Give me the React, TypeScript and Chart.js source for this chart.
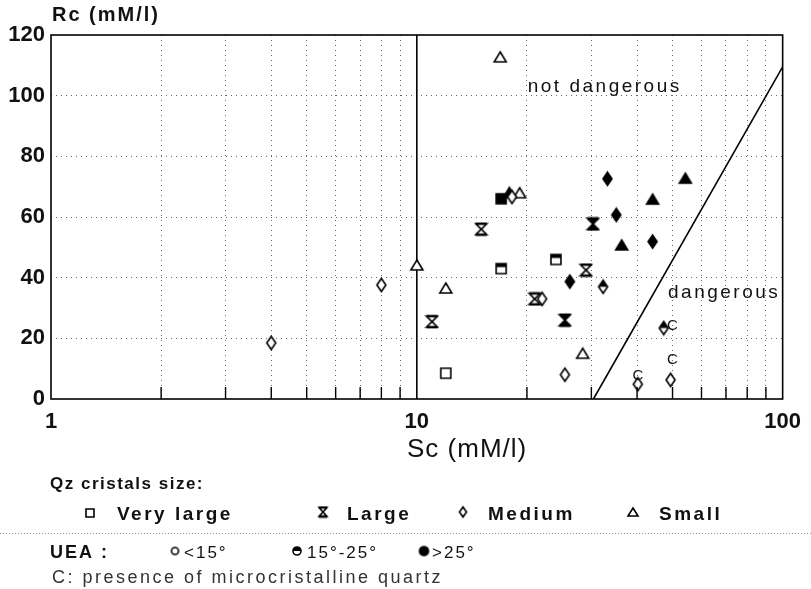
import React, { useEffect, useRef } from "react";
import { Chart, registerables } from "chart.js";
Chart.register(...registerables);

// ---------- data ----------
const xMin = 1;
const xMax = 100;
const yMin = 0;
const yMax = 120;
const yStep = 20;
const xLabelValues = [1, 10, 100];
const xTickValues = [1, 2, 3, 4, 5, 6, 7, 8, 9, 10, 20, 30, 40, 50, 60, 70, 80, 90, 100];

// Very large (square)
const veryLargeOpenX = [12];
const veryLargeOpenY = [8.5];
const veryLargeHalfX = [17, 24];
const veryLargeHalfY = [43, 46];
const veryLargeFullX = [17];
const veryLargeFullY = [66];
// Large (hourglass)
const largeOpenX = [11, 15, 21, 29];
const largeOpenY = [25.5, 56, 33, 42.5];
const largeFullX = [25.4, 30.3];
const largeFullY = [26, 57.7];
// Medium (diamond)
const mediumOpenX = [4, 8, 18.2, 22, 25.4, 40.2, 49.4];
const mediumOpenY = [18.5, 37.6, 66.6, 33, 8, 4.9, 6.3];
const mediumHalfX = [32.3, 47.3];
const mediumHalfY = [37, 23.4];
const mediumFullX = [26.2, 33.2, 35.1, 44.1];
const mediumFullY = [38.7, 72.6, 60.7, 51.9];
// Small (triangle)
const smallOpenX = [10, 12, 16.9, 19.1, 28.4];
const smallOpenY = [44.2, 36.6, 112.8, 68, 15.1];
const smallFullX = [17.9, 36.3, 44.1, 54.2];
const smallFullY = [68.1, 50.8, 65.9, 72.8];
// C: presence of microcristalline quartz
const microX = [40.2, 50, 50];
const microY = [7.6, 12.9, 24];
// boundary lines
const boundaryX = [10, 10];
const boundaryY = [0, 120];
const dangerX = [30.4, 100];
const dangerY = [0, 109.5];

const FONT = "'Liberation Sans', Arial, Helvetica, sans-serif";

type Shape = "square" | "hourglass" | "diamond" | "triangle" | "circle";
type Fill = "open" | "half" | "full";

function makeMarker(shape: Shape, fill: Fill, w: number, h: number) {
  const pad = 2;
  const c = document.createElement("canvas");
  c.width = Math.ceil(w + pad * 2);
  c.height = Math.ceil(h + pad * 2);
  const ctx = c.getContext("2d")!;
  ctx.translate(c.width / 2, c.height / 2);
  const hw = w / 2;
  const hh = h / 2;
  const p = new Path2D();
  if (shape === "square") {
    p.rect(-hw, -hh, w, h);
  } else if (shape === "diamond") {
    p.moveTo(0, -hh);
    p.lineTo(hw, 0);
    p.lineTo(0, hh);
    p.lineTo(-hw, 0);
    p.closePath();
  } else if (shape === "triangle") {
    p.moveTo(0, -hh);
    p.lineTo(hw, hh);
    p.lineTo(-hw, hh);
    p.closePath();
  } else if (shape === "hourglass") {
    p.moveTo(-hw, -hh);
    p.lineTo(hw, -hh);
    p.lineTo(0, 0);
    p.closePath();
    p.moveTo(-hw, hh);
    p.lineTo(hw, hh);
    p.lineTo(0, 0);
    p.closePath();
  } else {
    p.arc(0, 0, hw, 0, Math.PI * 2);
  }
  ctx.strokeStyle = "#000";
  ctx.fillStyle = "#fff";
  ctx.fill(p);
  ctx.fillStyle = "#000";
  if (fill === "full") ctx.fill(p);
  if (fill === "half") {
    ctx.save();
    ctx.beginPath();
    ctx.rect(-hw - pad, -hh - pad, w + pad * 2, hh + pad - (shape === "square" ? 1.5 : 0));
    ctx.clip();
    ctx.fill(p);
    ctx.restore();
  }
  ctx.lineWidth = 1.6;
  ctx.lineJoin = "miter";
  ctx.stroke(p);
  if (shape === "hourglass") {
    ctx.lineWidth = 2.4;
    ctx.beginPath();
    ctx.moveTo(-hw, -hh);
    ctx.lineTo(hw, -hh);
    ctx.moveTo(-hw, hh);
    ctx.lineTo(hw, hh);
    ctx.stroke();
  }
  return c;
}

function pts(xs: number[], ys: number[]) {
  return xs.map((x, i) => ({ x, y: ys[i] }));
}

function drawText(
  ctx: CanvasRenderingContext2D,
  s: string,
  x: number,
  y: number,
  font: string,
  align: CanvasTextAlign = "left",
  spacing = "0px",
  color = "#111"
) {
  ctx.save();
  ctx.font = font;
  (ctx as any).letterSpacing = spacing;
  ctx.fillStyle = color;
  ctx.textAlign = align;
  ctx.textBaseline = "middle";
  ctx.fillText(s, x, y);
  ctx.restore();
}

export default function App() {
  const ref = useRef<HTMLCanvasElement>(null);
  useEffect(() => {
    if (!ref.current) return;
    const m = {
      sqO: makeMarker("square", "open", 10, 10),
      sqH: makeMarker("square", "half", 10, 10),
      sqF: makeMarker("square", "full", 10, 10),
      hgO: makeMarker("hourglass", "open", 11, 11),
      hgF: makeMarker("hourglass", "full", 11, 11),
      diO: makeMarker("diamond", "open", 9, 13),
      diH: makeMarker("diamond", "half", 9, 13),
      diF: makeMarker("diamond", "full", 9, 13),
      trO: makeMarker("triangle", "open", 12, 10),
      trF: makeMarker("triangle", "full", 12, 10),
    };
    const lg = {
      sq: makeMarker("square", "open", 8, 8),
      hg: makeMarker("hourglass", "open", 8, 9),
      di: makeMarker("diamond", "open", 7, 10),
      tr: makeMarker("triangle", "open", 10, 8),
      ciO: makeMarker("circle", "open", 7, 7),
      ciH: makeMarker("circle", "half", 8, 8),
      ciF: makeMarker("circle", "full", 9, 9),
    };

    const scatter = (data: any[], style: HTMLCanvasElement) => ({
      data,
      pointStyle: style,
      showLine: false,
      pointRadius: 6,
    });

    const extras = {
      id: "extras",
      afterDraw(chart: any) {
        const ctx: CanvasRenderingContext2D = chart.ctx;
        const a = chart.chartArea;
        const xs = chart.scales.x;
        const ys = chart.scales.y;
        // frame
        ctx.save();
        ctx.strokeStyle = "#000";
        ctx.lineWidth = 1.6;
        ctx.strokeRect(a.left, a.top, a.right - a.left, a.bottom - a.top);
        // inward ticks at bottom
        ctx.lineWidth = 1.4;
        ctx.beginPath();
        for (const v of xTickValues) {
          if (xLabelValues.includes(v)) continue;
          const px = xs.getPixelForValue(v);
          ctx.moveTo(px, a.bottom);
          ctx.lineTo(px, a.bottom - 12);
        }
        ctx.stroke();
        ctx.restore();
        // C labels
        for (let i = 0; i < microX.length; i++) {
          drawText(ctx, "C", xs.getPixelForValue(microX[i]), ys.getPixelForValue(microY[i]), `15px ${FONT}`, "center");
        }
        // annotations
        drawText(ctx, "not dangerous", xs.getPixelForValue(20.1), ys.getPixelForValue(103), `19px ${FONT}`, "left", "2.5px");
        drawText(ctx, "dangerous", xs.getPixelForValue(48.6), ys.getPixelForValue(35), `19px ${FONT}`, "left", "2.5px");
        // axis titles
        drawText(ctx, "Rc (mM/l)", 52, 15, `bold 20px ${FONT}`, "left", "2px");
        drawText(ctx, "Sc (mM/l)", 407, 450, `26px ${FONT}`, "left", "1px");
        // legend
        drawText(ctx, "Qz cristals size:", 50, 484, `bold 17px ${FONT}`, "left", "1.5px");
        const row1 = 515;
        const lf = `bold 19px ${FONT}`;
        ctx.drawImage(lg.sq, 90 - lg.sq.width / 2, row1 - 2 - lg.sq.height / 2);
        drawText(ctx, "Very large", 117, row1, lf, "left", "2.5px");
        ctx.drawImage(lg.hg, 323 - lg.hg.width / 2, row1 - 3 - lg.hg.height / 2);
        drawText(ctx, "Large", 347, row1, lf, "left", "2.5px");
        ctx.drawImage(lg.di, 463 - lg.di.width / 2, row1 - 3 - lg.di.height / 2);
        drawText(ctx, "Medium", 488, row1, lf, "left", "2.5px");
        ctx.drawImage(lg.tr, 633 - lg.tr.width / 2, row1 - 3 - lg.tr.height / 2);
        drawText(ctx, "Small", 659, row1, lf, "left", "2.5px");
        // dotted separator
        ctx.save();
        ctx.strokeStyle = "#999";
        ctx.lineWidth = 1;
        ctx.setLineDash([1, 2]);
        ctx.beginPath();
        ctx.moveTo(0, 533.5);
        ctx.lineTo(811, 533.5);
        ctx.stroke();
        ctx.restore();
        const row2 = 553;
        drawText(ctx, "UEA :", 50, row2, `bold 18px ${FONT}`, "left", "2px");
        ctx.drawImage(lg.ciO, 175 - lg.ciO.width / 2, row2 - 2 - lg.ciO.height / 2);
        drawText(ctx, "<15°", 184, row2, `17px ${FONT}`, "left", "2px");
        ctx.drawImage(lg.ciH, 297 - lg.ciH.width / 2, row2 - 2 - lg.ciH.height / 2);
        drawText(ctx, "15°-25°", 307, row2, `17px ${FONT}`, "left", "2px");
        ctx.drawImage(lg.ciF, 424 - lg.ciF.width / 2, row2 - 2 - lg.ciF.height / 2);
        drawText(ctx, ">25°", 432, row2, `17px ${FONT}`, "left", "2px");
        drawText(ctx, "C: presence of microcristalline quartz", 52, 578, `18px ${FONT}`, "left", "2.5px", "#333");
      },
    };

    const chart = new Chart(ref.current, {
      type: "scatter",
      data: {
        datasets: [
          scatter(pts(veryLargeOpenX, veryLargeOpenY), m.sqO),
          scatter(pts(veryLargeHalfX, veryLargeHalfY), m.sqH),
          scatter(pts(veryLargeFullX, veryLargeFullY), m.sqF),
          scatter(pts(largeOpenX, largeOpenY), m.hgO),
          scatter(pts(largeFullX, largeFullY), m.hgF),
          scatter(pts(mediumOpenX, mediumOpenY), m.diO),
          scatter(pts(mediumHalfX, mediumHalfY), m.diH),
          scatter(pts(mediumFullX, mediumFullY), m.diF),
          scatter(pts(smallOpenX, smallOpenY), m.trO),
          scatter(pts(smallFullX, smallFullY), m.trF),
          {
            data: pts(boundaryX, boundaryY),
            showLine: true,
            borderColor: "#000",
            borderWidth: 1.6,
            pointRadius: 0,
          },
          {
            data: pts(dangerX, dangerY),
            showLine: true,
            borderColor: "#000",
            borderWidth: 1.6,
            pointRadius: 0,
          },
        ] as any,
      },
      options: {
        animation: false,
        responsive: false,
        layout: { padding: { left: 0, top: 35, right: 28, bottom: 0 } },
        plugins: { legend: { display: false }, tooltip: { enabled: false } },
        scales: {
          x: {
            type: "logarithmic",
            min: xMin,
            max: xMax,
            afterBuildTicks: (s: any) => {
              s.ticks = xTickValues.map((v) => ({ value: v }));
            },
            afterFit: (s: any) => {
              s.height = 190;
            },
            ticks: {
              autoSkip: false,
              maxRotation: 0,
              padding: 10,
              color: "#111",
              font: { family: FONT, size: 22, weight: "bold" },
              callback: (v: any) => (xLabelValues.includes(Number(v)) ? String(v) : ""),
            },
            grid: {
              drawTicks: false,
              lineWidth: 1,
              color: (c: any) =>
                c.tick && xLabelValues.includes(c.tick.value) ? "rgba(0,0,0,0)" : "#666",
            },
            border: { display: false, dash: [1, 4] },
          },
          y: {
            min: yMin,
            max: yMax,
            ticks: {
              stepSize: yStep,
              padding: 6,
              color: "#111",
              font: { family: FONT, size: 22, weight: "bold" },
            },
            afterFit: (s: any) => {
              s.width = 51;
            },
            grid: {
              drawTicks: false,
              lineWidth: 1,
              color: (c: any) =>
                c.tick && (c.tick.value === yMin || c.tick.value === yMax) ? "rgba(0,0,0,0)" : "#666",
            },
            border: { display: false, dash: [1, 4] },
          },
        },
      },
      plugins: [extras],
    } as any);
    return () => chart.destroy();
  }, []);
  return (
    <div style={{ position: "absolute", left: 0, top: 0, width: 811, height: 589, background: "#fff" }}>
      <canvas ref={ref} width={811} height={589} style={{ display: "block" }} />
    </div>
  );
}
